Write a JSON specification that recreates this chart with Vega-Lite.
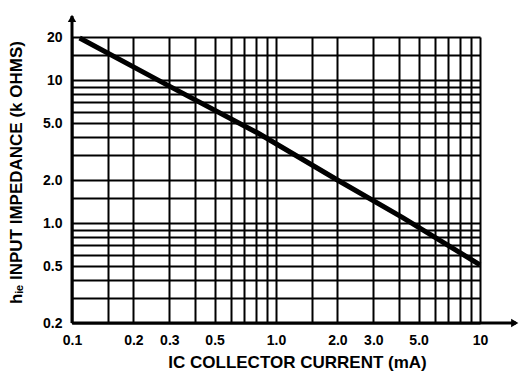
{
  "$schema": "https://vega.github.io/schema/vega-lite/v6.json",
  "width": 408,
  "height": 286,
  "autosize": {"type": "none"},
  "padding": {"left": 72, "top": 37, "right": 41, "bottom": 53},
  "background": "white",
  "config": {"view": {"stroke": null}, "font": "Liberation Sans"},
  "layer": [
    {
      "data": {"values": [
        {"ic": 0.109, "hie": 19.7},
        {"ic": 0.292, "hie": 9.25},
        {"ic": 0.815, "hie": 4.26},
        {"ic": 2.0, "hie": 2.0},
        {"ic": 4.18, "hie": 1.09},
        {"ic": 10, "hie": 0.51}
      ]},
      "mark": {"type": "line", "color": "black", "strokeWidth": 5},
      "encoding": {
        "x": {"field": "ic", "type": "quantitative",
          "scale": {"type": "log", "domain": [0.1, 10], "nice": false},
          "axis": {
            "values": [0.1,0.15,0.2,0.3,0.4,0.5,0.6,0.7,0.8,0.9,1,1.5,2,3,4,5,6,7,8,9,10],
            "grid": true, "gridColor": "black", "gridWidth": 2, "gridOpacity": 1,
            "ticks": false, "domain": false,
            "labelExpr": "indexof([0.1,0.2,0.3,0.5,1,2,3,5],datum.value)>=0 ? format(datum.value,'.1f') : (datum.value==10 ? '10' : '')",
            "labelOverlap": false, "labelFlush": false,
            "labelFont": "Liberation Sans", "labelFontWeight": "bold", "labelFontSize": 14, "labelColor": "black", "labelPadding": 10,
            "title": "IC COLLECTOR CURRENT (mA)",
            "titleFont": "Liberation Sans", "titleFontSize": 17, "titleFontWeight": "bold", "titleColor": "black",
            "titleX": 225, "titleY": 44, "titleBaseline": "alphabetic", "titleAnchor": "middle", "titleAlign": "center"
          }},
        "y": {"field": "hie", "type": "quantitative",
          "scale": {"type": "log", "domain": [0.2, 20], "nice": false},
          "axis": {
            "values": [0.2,0.3,0.4,0.5,0.6,0.7,0.8,0.9,1,1.5,2,3,4,5,6,7,8,9,10,15,20],
            "grid": true, "gridColor": "black", "gridWidth": 2, "gridOpacity": 1,
            "ticks": false, "domain": false,
            "labelExpr": "indexof([0.2,0.5,1,2,5],datum.value)>=0 ? format(datum.value,'.1f') : (indexof([10,20],datum.value)>=0 ? format(datum.value,'d') : '')",
            "labelOverlap": false, "labelFlush": false,
            "labelFont": "Liberation Sans", "labelFontWeight": "bold", "labelFontSize": 14, "labelColor": "black", "labelPadding": 10,
            "title": "hᵢₑ INPUT IMPEDANCE (k OHMS)",
            "titleFont": "Liberation Sans", "titleFontSize": 17, "titleFontWeight": "bold", "titleColor": "black",
            "titleX": -51, "titleY": 135, "titleAngle": 270, "titleBaseline": "alphabetic", "titleAlign": "center"
          }}
      }
    },
    {
      "data": {"values": [
        {"ic": 0.1, "ic2": 0.1, "hie": 0.2, "hie2": 28},
        {"ic": 0.1, "ic2": 15, "hie": 0.2, "hie2": 0.2}
      ]},
      "mark": {"type": "rule", "color": "black", "strokeWidth": 3},
      "encoding": {
        "x": {"field": "ic", "type": "quantitative"},
        "x2": {"field": "ic2"},
        "y": {"field": "hie", "type": "quantitative"},
        "y2": {"field": "hie2"}
      }
    },
    {
      "data": {"values": [
        {"ic": 0.1, "hie": 27, "dir": "up"},
        {"ic": 14.8, "hie": 0.2, "dir": "right"}
      ]},
      "mark": {"type": "point", "filled": true, "color": "black", "opacity": 1, "size": 70},
      "encoding": {
        "x": {"field": "ic", "type": "quantitative"},
        "y": {"field": "hie", "type": "quantitative"},
        "shape": {"field": "dir", "type": "nominal", "scale": {"domain": ["up", "right"], "range": ["triangle-up", "triangle-right"]}, "legend": null}
      }
    }
  ]
}
